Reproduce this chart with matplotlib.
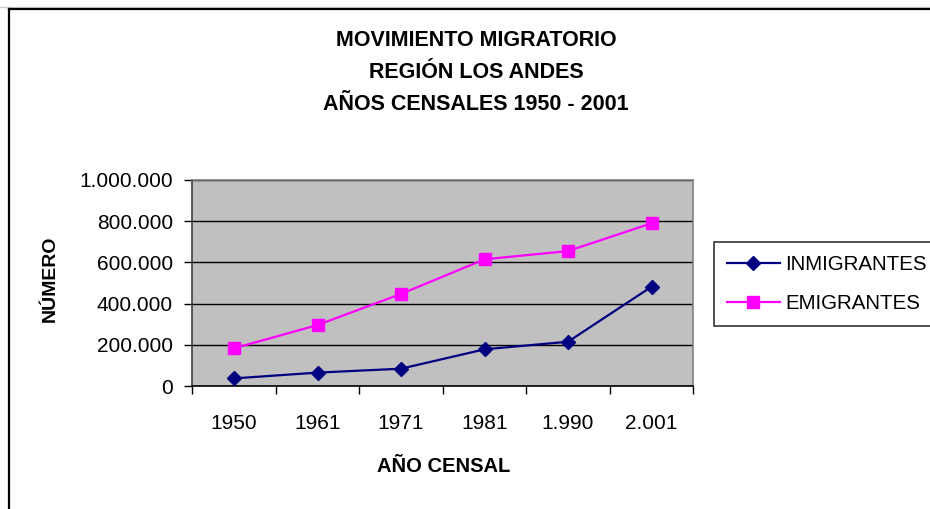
import matplotlib
matplotlib.use("Agg")
import matplotlib.pyplot as plt
from matplotlib.lines import Line2D

# Census years and migration counts
YEARS = ["1950", "1961", "1971", "1981", "1.990", "2.001"]
INMIGRANTES = [37000, 65000, 84000, 178000, 215000, 482000]
EMIGRANTES = [183000, 296000, 447000, 615000, 655000, 790000]
Y_TICKS = [0, 200000, 400000, 600000, 800000, 1000000]
Y_LABELS = ["0", "200.000", "400.000", "600.000", "800.000", "1.000.000"]

W, H = 930, 509
plt.rcParams["font.family"] = ["Liberation Sans", "DejaVu Sans"]

fig = plt.figure(figsize=(W / 100, H / 100), dpi=100)
fig.patch.set_facecolor("white")

# outer chart border (cut off at right/bottom like the reference)
fig.add_artist(Line2D([0, 1], [1 - 7 / H, 1 - 7 / H], transform=fig.transFigure,
                      color="#d0d0d0", lw=1))
fig.add_artist(Line2D([9 / W, 9 / W], [0, 1 - 9 / H], transform=fig.transFigure,
                      color="black", lw=1.6))
fig.add_artist(Line2D([9 / W, 1], [1 - 9 / H, 1 - 9 / H], transform=fig.transFigure,
                      color="black", lw=1.6))

left, right, top, bottom = 192.3, 693.3, 180, 386
ax = fig.add_axes([left / W, 1 - bottom / H, (right - left) / W, (bottom - top) / H])
ax.set_facecolor("#C0C0C0")

x = list(range(len(YEARS)))
ax.plot(x, INMIGRANTES, color="#000080", lw=1.6, marker="D", markersize=7.5,
        label="INMIGRANTES", zorder=3)
ax.plot(x, EMIGRANTES, color="#FF00FF", lw=1.6, marker="s", markersize=8,
        label="EMIGRANTES", zorder=3)

ax.set_xlim(-0.5, len(YEARS) - 0.5)
ax.set_ylim(0, 1000000)
ax.set_yticks(Y_TICKS)
ax.set_yticklabels(Y_LABELS, fontsize=15)
ax.set_xticks(x)
ax.set_xticklabels(YEARS, fontsize=15)
ax.set_xticks([i - 0.5 for i in range(len(YEARS) + 1)], minor=True)
ax.tick_params(axis="x", which="major", length=0, pad=20)
ax.tick_params(axis="x", which="minor", length=5.5, width=1, color="black")
ax.tick_params(axis="y", length=5.5, width=1, color="black", pad=8.5)
ax.grid(axis="y", color="black", lw=1)
ax.set_axisbelow(True)

ax.spines["left"].set_color("#404040")
ax.spines["bottom"].set_color("black")
ax.spines["top"].set_color("#808080")
ax.spines["right"].set_color("#808080")
for s in ax.spines.values():
    s.set_linewidth(1.2)

title_lines = ["MOVIMIENTO MIGRATORIO", "REGIÓN LOS ANDES", "AÑOS CENSALES 1950 - 2001"]
for i, line in enumerate(title_lines):
    fig.text(476 / W, 1 - (40 + 32.5 * i) / H, line, ha="center", va="center",
             fontsize=15.5, fontweight="bold")

fig.text(50.5 / W, 1 - 279 / H, "NÚMERO", rotation=90, ha="center", va="center",
         fontsize=14, fontweight="bold")
fig.text(444 / W, 1 - 467 / H, "AÑO CENSAL", ha="center", va="center",
         fontsize=14.5, fontweight="bold")

leg = fig.legend(loc="upper left", bbox_to_anchor=(714 / W, 1 - 242 / H),
                 bbox_transform=fig.transFigure, borderaxespad=0, fontsize=14.8,
                 frameon=True, fancybox=False, handlelength=2.6,
                 handletextpad=0.25, labelspacing=1.0, borderpad=0.62)
leg.get_frame().set_edgecolor("black")
leg.get_frame().set_linewidth(1.2)

fig.savefig("out.png", dpi=100)
